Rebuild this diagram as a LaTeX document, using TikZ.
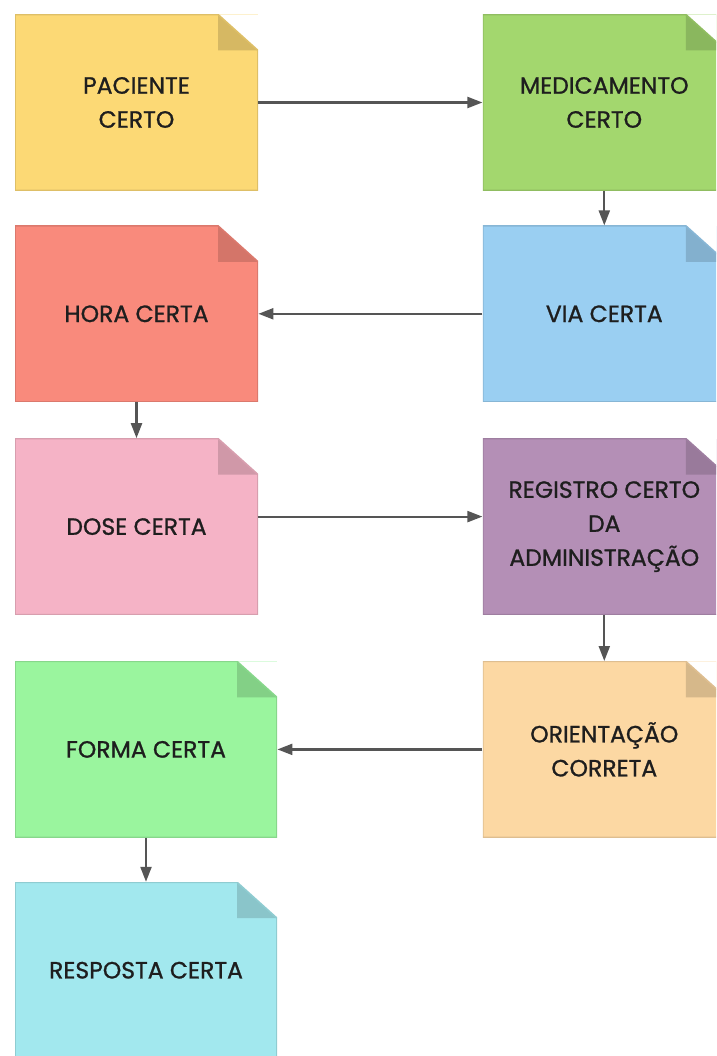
\documentclass[tikz,border=0pt]{standalone}
\usepackage{fontspec}
\setmainfont{Poppins}
\newfontfamily\notefont{Poppins}[FakeBold=1]
\usepackage{tikz}
\usepackage{xcolor}
\usetikzlibrary{positioning, arrows.meta}

\definecolor{pacYellow}{HTML}{FCD975}
\definecolor{medGreen}{HTML}{A3D76E}
\definecolor{viaBlue}{HTML}{9ACFF2}
\definecolor{horaRed}{HTML}{F98A7C}
\definecolor{dosePink}{HTML}{F5B3C6}
\definecolor{regPurple}{HTML}{B48FB6}
\definecolor{oriPeach}{HTML}{FCD8A3}
\definecolor{formaGreen}{HTML}{9AF59E}
\definecolor{respCyan}{HTML}{A2E8EE}
\definecolor{flowGray}{HTML}{555555}
\definecolor{noteText}{HTML}{1E1E1E}

\begin{document}
\begin{tikzpicture}[x=1pt, y=-1pt, thick,
    note/.style = {fill=#1, minimum width=243pt, minimum height=176pt, inner sep=2pt,
        align=center, text=noteText, font=\notefont\fontsize{23.5}{34}\selectfont,
        path picture={
            \fill[white] (path picture bounding box.north east) -- ++(-40pt,0pt) -- ++(40pt,-36pt) -- cycle;
            \fill[#1!85!black] ([xshift=-40pt]path picture bounding box.north east) -- ++(0pt,-36pt) -- ++(40pt,0pt) -- cycle;
            \draw[#1!88!black, line width=1.6pt] (path picture bounding box.north west) -- ([xshift=-40pt]path picture bounding box.north east)
                -- ([yshift=-36pt]path picture bounding box.north east) -- (path picture bounding box.south east)
                -- (path picture bounding box.south west) -- cycle;
        }},
    wide/.style = {minimum width=262pt},
    flow/.style = {draw=flowGray, line width=2.2pt, -{Triangle[length=15pt, width=11pt]}}]
    \useasboundingbox (0,0) rectangle (716,1056);
    \clip (0,0) rectangle (716,1056);

    % left and right columns
    \node[note=pacYellow] (pac) at (136.5,102.5) {PACIENTE\\CERTO};
    \node[note=medGreen] (med) [right=224pt of pac] {MEDICAMENTO\\CERTO};
    \node[note=viaBlue] (via) [below=34.5pt of med] {VIA CERTA};
    \node[note=horaRed] (hora) [left=224pt of via] {HORA CERTA};
    \node[note=dosePink] (dose) [below=36pt of hora] {DOSE CERTA};
    \node[note=regPurple] (reg) [right=224pt of dose] {REGISTRO CERTO\\DA\\ADMINISTRAÇÃO};
    \node[note=oriPeach] (ori) [below=46pt of reg] {ORIENTAÇÃO\\CORRETA};
    \node[note=formaGreen, wide] (forma) [left=205pt of ori] {FORMA CERTA};
    \node[note=respCyan, wide] (resp) [below=44pt of forma] {RESPOSTA CERTA};

    \draw[flow] (pac) -- (med);
    \draw[flow] (med) -- (via);
    \draw[flow] (via) -- (hora);
    \draw[flow] (hora) -- (dose);
    \draw[flow] ([yshift=10pt]dose.east) -- ([yshift=10pt]reg.west);
    \draw[flow] (reg) -- (ori);
    \draw[flow] (ori) -- (forma);
    \draw[flow] (forma) -- (resp);
\end{tikzpicture}
\end{document}
